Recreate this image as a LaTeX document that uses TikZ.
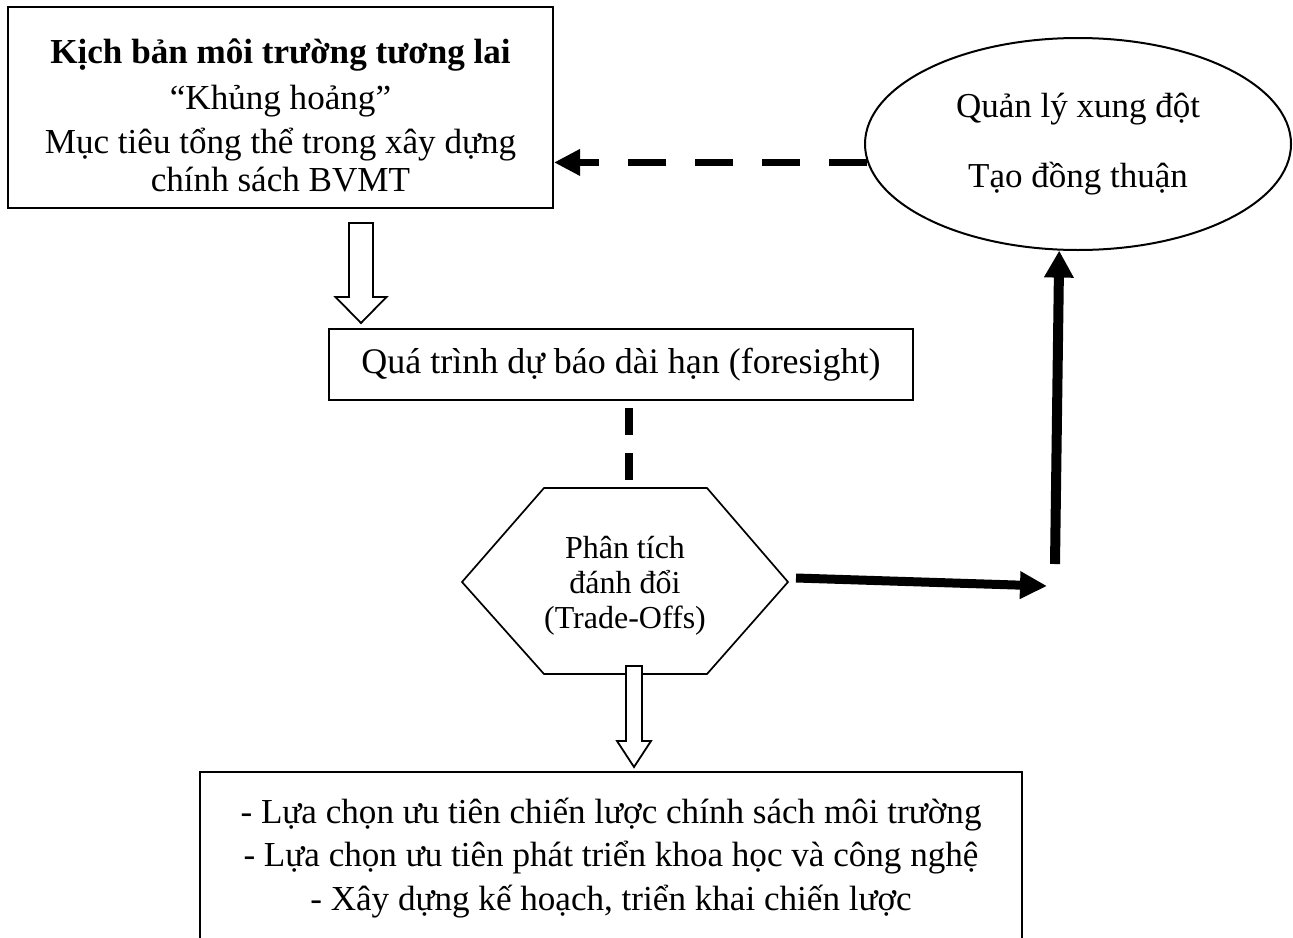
\documentclass[tikz,border=0pt]{standalone}
\usepackage{fontspec}
\setmainfont{Liberation Serif}
\usetikzlibrary{arrows.meta,shapes.geometric,calc}
\begin{document}
\begin{tikzpicture}[x=1pt,y=-1pt,
  boxnode/.style={draw, line width=2pt, rectangle, align=center, inner sep=0pt,
    font=\fontsize{36}{41}\selectfont},
  hollow/.style={draw, line width=1.8pt, fill=white, line join=miter},
  thickarrow/.style={line width=9pt, -{Triangle[length=27pt,width=26pt]}},
  dasharrow/.style={line width=7.5pt, dash pattern=on 38pt off 29pt, -{Triangle[length=26pt,width=25pt]}},
  dashline/.style={line width=8pt, dash pattern=on 27pt off 18pt}]
\useasboundingbox (0,0) rectangle (1293,937);

% top-left box
\node[boxnode, minimum width=545pt, minimum height=201pt] (box1) at (280.5,107.5) {};
\node[align=center, inner sep=0pt, font=\fontsize{35.1}{40}\selectfont] (box1txt) at (280.5,115.5)
  {\textbf{Kịch bản môi trường tương lai}\\[6pt]
   “Khủng hoảng”\\[4pt]
   Mục tiêu tổng thể trong xây dựng\\[-2pt]
   chính sách BVMT};

% ellipse
\node[draw, ellipse, line width=2pt, minimum width=426pt, minimum height=212pt,
  inner sep=0pt, align=center, font=\fontsize{35}{40}\selectfont] (ell) at (1078,144)
  {Quản lý xung đột\\[30pt] Tạo đồng thuận};

% foresight box
\node[boxnode, minimum width=584pt, minimum height=71pt] (fore) at (621,364.5)
  {Quá trình dự báo dài hạn (foresight)};

% hexagon
\coordinate (hexL)  at (462,582);
\coordinate (hexTL) at (544,488);
\coordinate (hexTR) at (707,488);
\coordinate (hexR)  at (788,582);
\coordinate (hexBR) at (707,674);
\coordinate (hexBL) at (544,674);
\draw[line width=1.7pt] (hexL) -- (hexTL) -- (hexTR) -- (hexR) -- (hexBR) -- (hexBL) -- cycle;
\node[align=center, inner sep=0pt, font=\fontsize{32}{35}\selectfont] (hex) at (625,586)
  {Phân tích\\ đánh đổi\\ (Trade-Offs)};

% bottom box
\node[boxnode, anchor=north, minimum width=822pt, inner ysep=26pt, font=\fontsize{35.1}{43.5}\selectfont] (bot) at (611,771)
  {- Lựa chọn ưu tiên chiến lược chính sách môi trường\\
   - Lựa chọn ưu tiên phát triển khoa học và công nghệ\\
   - Xây dựng kế hoạch, triển khai chiến lược};

% hollow arrow box1 -> fore
\coordinate (a1s) at (361,223);
\coordinate (a1t) at (361,323);
\draw[hollow] ($(a1s)+(-12,0)$) -- ($(a1s)+(12,0)$) -- ($(a1s)+(12,74)$) -- ($(a1s)+(25.5,74)$)
  -- (a1t) -- ($(a1s)+(-25.5,74)$) -- ($(a1s)+(-12,74)$) -- cycle;

% hollow arrow hex -> bot
\coordinate (a2s) at (634,666);
\coordinate (a2t) at (634,767);
\draw[hollow] ($(a2s)+(-8,0)$) -- ($(a2s)+(8,0)$) -- ($(a2s)+(8,75)$) -- ($(a2s)+(17,75)$)
  -- (a2t) -- ($(a2s)+(-17,75)$) -- ($(a2s)+(-8,75)$) -- cycle;

% dashed arrow ellipse -> box1
\draw[dasharrow] (ell.185.4) -- (box1.east |- ell.185.4);

% dashed line fore -> hex
\coordinate (dv1) at (629,408);
\coordinate (dv2) at (629,480);
\draw[dashline] (dv1) -- (dv2);

% thick arrow hex -> right
\coordinate (hstart) at (796,578);
\coordinate (hend) at (1047,586);
\draw[thickarrow] (hstart) -- (hend);

% thick arrow up to ellipse
\coordinate (vstart) at (1055,564);
\draw[thickarrow, line width=10pt, -{Triangle[length=27pt,width=28pt]}] (vstart) -- (ell.260);
\end{tikzpicture}
\end{document}
